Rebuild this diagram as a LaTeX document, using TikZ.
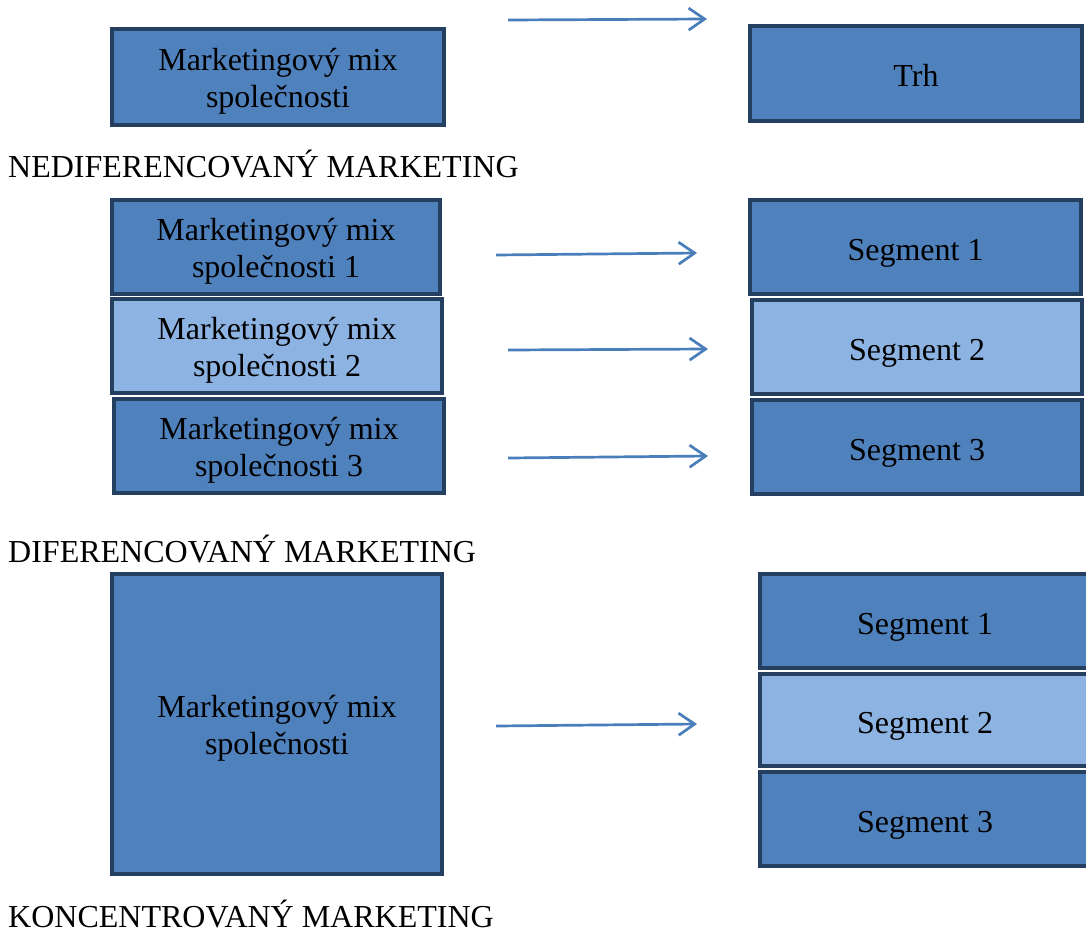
\documentclass[tikz,border=0pt]{standalone}
\usepackage{fontspec}
\setmainfont{Liberation Serif}
\usetikzlibrary{arrows.meta}
\definecolor{boxfill}{HTML}{4F81BD}
\definecolor{boxlight}{HTML}{8DB3E2}
\definecolor{boxline}{HTML}{243F60}
\definecolor{arrowcol}{HTML}{4A7EBB}
\newcommand\mytopstrut{\rule{0pt}{31pt}}
\newcommand\mybotstrut{\rule[-8pt]{0pt}{8pt}}
\newcommand\myonestrut{\rule[-8pt]{0pt}{42pt}}
\tikzset{
  mixbox/.style={draw=boxline, line width=4pt, fill=boxfill, rectangle, inner sep=0pt, align=center,
    font=\fontsize{32}{37}\selectfont, text=black},
  lightbox/.style={mixbox, fill=boxlight},
  flow/.style={draw=arrowcol, line width=2.7pt, -{Straight Barb[length=16pt, width=22pt, line width=2.7pt]}},
  heading/.style={anchor=base west, inner sep=0pt, font=\fontsize{32}{37}\selectfont}
}
\begin{document}
\begin{tikzpicture}[x=1pt, y=-1pt]
\useasboundingbox (0,0) rectangle (1086,935);
% top
\node[mixbox, minimum width=332pt, minimum height=96pt] (mixA) at (278,77) {\mytopstrut Marketingový mix\\společnosti\mybotstrut};
\node[mixbox, minimum width=332pt, minimum height=95pt] (trh) at (916,73.5) {\myonestrut Trh};
\coordinate (a1s) at (508,20); \coordinate (a1e) at (707,19);
\draw[flow] (a1s) -- (a1e);
\node[heading] (lab1) at (8,177) {NEDIFERENCOVANÝ MARKETING};
% middle
\node[mixbox, minimum width=328pt, minimum height=94pt] (m1) at (276,247) {\mytopstrut Marketingový mix\\společnosti 1\mybotstrut};
\node[lightbox, minimum width=330pt, minimum height=94pt] (m2) at (277,346) {\mytopstrut Marketingový mix\\společnosti 2\mybotstrut};
\node[mixbox, minimum width=330pt, minimum height=94pt] (m3) at (279,446) {\mytopstrut Marketingový mix\\společnosti 3\mybotstrut};
\node[mixbox, minimum width=331pt, minimum height=94pt] (s1) at (915.5,247) {\myonestrut Segment 1};
\node[lightbox, minimum width=330pt, minimum height=94pt] (s2) at (917,347) {\myonestrut Segment 2};
\node[mixbox, minimum width=330pt, minimum height=94pt] (s3) at (917,447) {\myonestrut Segment 3};
\coordinate (b1s) at (496,255); \coordinate (b1e) at (697,253);
\coordinate (b2s) at (508,350); \coordinate (b2e) at (708,349);
\coordinate (b3s) at (508,458); \coordinate (b3e) at (708,456);
\draw[flow] (b1s) -- (b1e);
\draw[flow] (b2s) -- (b2e);
\draw[flow] (b3s) -- (b3e);
\node[heading] (lab2) at (8,562) {DIFERENCOVANÝ MARKETING};
% bottom
\node[mixbox, minimum width=330pt, minimum height=300pt] (big) at (277,724) {\mytopstrut Marketingový mix\\společnosti\mybotstrut};
\node[mixbox, minimum width=330pt, minimum height=94pt] (t1) at (925,621) {\myonestrut Segment 1};
\node[lightbox, minimum width=330pt, minimum height=92pt] (t2) at (925,720) {\myonestrut Segment 2};
\node[mixbox, minimum width=330pt, minimum height=94pt] (t3) at (925,819) {\myonestrut Segment 3};
\coordinate (c1s) at (496,726); \coordinate (c1e) at (697,724);
\draw[flow] (c1s) -- (c1e);
\node[heading] (lab3) at (8,927) {KONCENTROVANÝ MARKETING};
\end{tikzpicture}
\end{document}
